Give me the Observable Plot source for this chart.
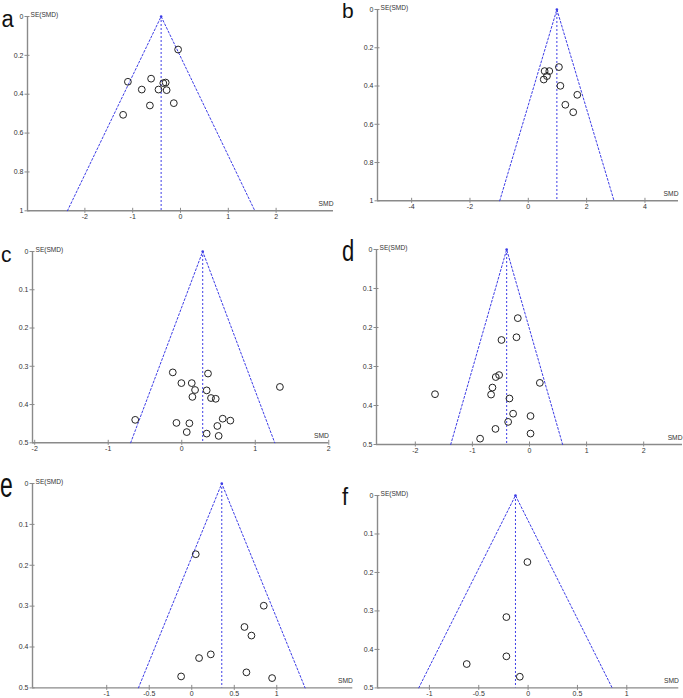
<!DOCTYPE html>
<html><head><meta charset="utf-8">
<script src="https://cdn.jsdelivr.net/npm/d3@7"></script>
<script src="https://cdn.jsdelivr.net/npm/@observablehq/plot@0.6"></script>
<style>
html,body{margin:0;padding:0;background:#fff;overflow:hidden}
#wrap{position:relative;width:683px;height:698px;overflow:hidden;background:#fff}
.panel{position:absolute}
#letters{position:absolute;left:0;top:0;pointer-events:none}
</style></head><body><div id="wrap"></div>
<script>
// ---------- data ----------
const panelNames = ["a", "b", "c", "d", "e", "f"];

const aSMD = [-0.05, -1.10, -0.615, -0.81, -0.46, -0.36, -0.31, -0.29, -0.64, -0.14, -1.20];
const aSE  = [0.17, 0.336, 0.32, 0.376, 0.376, 0.343, 0.34, 0.379, 0.458, 0.446, 0.506];

const bSMD = [0.56, 0.72, 0.64, 0.53, 1.05, 1.10, 1.68, 1.27, 1.54];
const bSE  = [0.322, 0.322, 0.348, 0.366, 0.301, 0.399, 0.446, 0.498, 0.537];

const cSMD = [-0.122, 0.357, -0.005, 0.136, 0.181, 0.339, 0.145, 0.398, 0.462, 1.335, -0.633, -0.072, 0.104, 0.068, 0.557, 0.661, 0.484, 0.339, 0.502];
const cSE  = [0.316, 0.319, 0.344, 0.344, 0.362, 0.363, 0.38, 0.383, 0.385, 0.354, 0.44, 0.448, 0.449, 0.472, 0.437, 0.442, 0.456, 0.476, 0.482];

const dSMD = [-0.205, -0.228, -0.491, -0.532, -0.591, 0.181, -0.649, -0.673, -1.655, -0.351, -0.287, 0.018, -0.374, -0.596, 0.018, -0.865];
const dSE  = [0.176, 0.225, 0.232, 0.322, 0.327, 0.342, 0.354, 0.372, 0.371, 0.382, 0.421, 0.427, 0.442, 0.46, 0.472, 0.485];

const eSMD = [0.047, 0.847, 0.62, 0.702, 0.224, 0.086, -0.125, 0.643, 0.945];
const eSE  = [0.173, 0.299, 0.351, 0.372, 0.418, 0.427, 0.472, 0.462, 0.476];

const fSMD = [-0.007, -0.22, -0.22, -0.622, -0.084];
const fSE  = [0.173, 0.316, 0.418, 0.438, 0.471];

// pooled effect (vertical line / funnel apex) and maximum SE shown
const pooledSMD = [-0.405, 0.98, 0.285, -0.40, 0.353, -0.128];
const maxSE = [1, 1, 0.5, 0.5, 0.5, 0.5];

// axis domains and tick labels
const xDomains = [[-3.2, 3.2], [-5.17, 5.15], [-2.03, 2.0], [-2.68, 2.68], [-1.873, 1.894], [-1.526, 1.527]];
const xTicks = [[-2, -1, 0, 1, 2], [-4, -2, 0, 2, 4], [-2, -1, 0, 1, 2], [-2, -1, 0, 1, 2], [-1, -0.5, 0, 0.5, 1], [-1, -0.5, 0, 0.5, 1]];
const yTicks = [[0, 0.2, 0.4, 0.6, 0.8, 1], [0, 0.2, 0.4, 0.6, 0.8, 1], [0, 0.1, 0.2, 0.3, 0.4, 0.5], [0, 0.1, 0.2, 0.3, 0.4, 0.5], [0, 0.1, 0.2, 0.3, 0.4, 0.5], [0, 0.1, 0.2, 0.3, 0.4, 0.5]];
const yTitle = "SE(SMD)";
const xTitle = "SMD";

// ---------- layout (pixel frames of each panel's axes) ----------
const frames = [
  {l: 27, r: 333, t: 15.7, b: 210},
  {l: 377.3, r: 678.3, t: 9, b: 200.3},
  {l: 31.7, r: 328, t: 251, b: 442.3},
  {l: 376, r: 682, t: 249.3, b: 444.3},
  {l: 31.7, r: 352, t: 483.3, b: 687.7},
  {l: 376.7, r: 678, t: 495.3, b: 687.7}
];
const letterStyle = [
  {x: 1.5, y: 26.5, size: 22, sy: 1.12},
  {x: 342, y: 18, size: 21, sy: 1.0},
  {x: 1, y: 261.5, size: 21, sy: 1.05},
  {x: 342, y: 261, size: 22, sy: 1.3},
  {x: 0, y: 496.5, size: 23, sy: 1.5},
  {x: 342, y: 505, size: 22, sy: 1.05}
];

const smdSets = [aSMD, bSMD, cSMD, dSMD, eSMD, fSMD];
const seSets = [aSE, bSE, cSE, dSE, eSE, fSE];

const axisColor = "#8a8a8a";
const blue = "#3c3ce6";
const textColor = "#333";
const fontFam = "'Liberation Sans', Arial, sans-serif";
const mL = 26, mR = 4, mT = 12, mB = 12;
const fmt = d => String(d);

const wrap = document.getElementById("wrap");

panelNames.forEach((name, i) => {
  const f = frames[i];
  const width = (f.r - f.l) + mL + mR;
  const height = (f.b - f.t) + mT + mB;
  const [x0, x1] = xDomains[i];
  const se = maxSE[i];
  const m = pooledSMD[i];
  const pts = smdSets[i].map((s, j) => ({smd: s, se: seSets[i][j]}));
  const funnel = [
    {x: m - 1.96 * se, y: se},
    {x: m, y: 0},
    {x: m + 1.96 * se, y: se}
  ];
  const svg = Plot.plot({
    width, height,
    marginLeft: mL, marginRight: mR, marginTop: mT, marginBottom: mB,
    x: {domain: [x0, x1], label: null},
    y: {domain: [0, se], reverse: true, label: null},
    style: {fontFamily: fontFam, fontSize: "7px", color: textColor, background: "transparent", overflow: "visible"},
    marks: [
      Plot.ruleX([x0], {stroke: axisColor, strokeWidth: 1.4}),
      Plot.ruleY([se], {stroke: axisColor, strokeWidth: 1.4}),
      // crossing tick marks
      Plot.axisY(yTicks[i], {anchor: "left", tickSize: 5, dx: 2.5, stroke: axisColor, strokeWidth: 1, fill: "none", label: null}),
      Plot.axisY(yTicks[i], {anchor: "left", tickSize: 0, tickPadding: 4, tickFormat: fmt, fill: textColor, fontSize: 7, label: null}),
      Plot.axisX(xTicks[i], {anchor: "bottom", tickSize: 5, dy: -2.5, stroke: axisColor, strokeWidth: 1, fill: "none", label: null}),
      Plot.axisX(xTicks[i], {anchor: "bottom", tickSize: 0, tickPadding: 3.5, tickFormat: fmt, fill: textColor, fontSize: 7, label: null}),
      Plot.line(funnel, {x: "x", y: "y", stroke: blue, strokeWidth: 1, strokeDasharray: "2,2"}),
      Plot.ruleX([m], {y1: 0, y2: se, stroke: blue, strokeWidth: 1, strokeDasharray: "2,2"}),
      Plot.dot([{x: m, y: 0}], {x: "x", y: "y", r: 1.3, fill: blue}),
      Plot.dot(pts, {x: "smd", y: "se", r: 3.4, stroke: "#222", strokeWidth: 1, fill: "none"}),
      Plot.text([yTitle], {frameAnchor: "top-left", dx: 3, dy: -4, textAnchor: "start", fontSize: 6.6, fill: textColor}),
      Plot.text([xTitle], {frameAnchor: "bottom-right", dy: -5, textAnchor: "end", fontSize: 6.7, fill: textColor})
    ]
  });
  svg.classList.add("panel");
  svg.style.left = (f.l - mL) + "px";
  svg.style.top = (f.t - mT) + "px";
  wrap.appendChild(svg);
});

// panel letters
const ov = d3.select(wrap).append("svg").attr("id", "letters").attr("width", 683).attr("height", 698);
panelNames.forEach((name, i) => {
  const s = letterStyle[i];
  ov.append("text")
    .attr("transform", `translate(${s.x},${s.y}) scale(1,${s.sy})`)
    .attr("font-family", fontFam)
    .attr("font-size", s.size)
    .attr("fill", "#111")
    .text(name);
});
</script>
</body></html>
